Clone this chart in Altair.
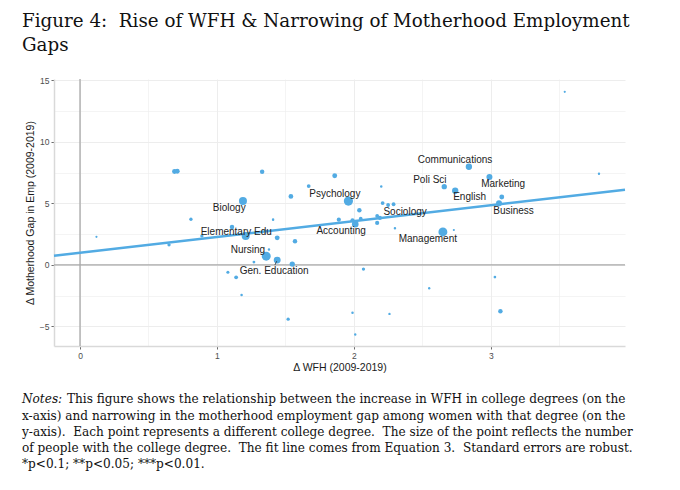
import altair as alt
import pandas as pd

# ---- data ----
wfh = [0.69, 0.71, 1.19, 0.81, 0.12, 1.11, 1.21, 0.89, 0.65, 1.27, 1.08, 1.14,
       1.33, 1.86, 1.67, 1.54, 1.41, 1.44, 1.57, 1.38, 1.36, 1.44, 1.55, 1.18,
       1.52, 1.89, 2.20, 1.96, 2.21, 2.25, 2.29, 2.04, 1.99, 2.01, 2.05, 2.17,
       2.19, 2.17, 2.30, 2.07, 2.65, 2.73, 2.66, 2.74, 2.84, 2.99, 3.08, 3.06,
       3.54, 3.79, 3.03, 2.55, 1.99, 2.26, 3.07, 2.01]
gap = [7.58, 7.60, 5.18, 3.70, 2.27, 3.08, 2.35, 2.35, 1.62, 0.22, -0.60, -1.02,
       7.56, 7.24, 6.40, 5.56, 3.67, 2.19, 1.92, 1.25, 0.70, 0.38, 0.06, -2.45,
       -4.42, 3.67, 6.37, 5.18, 5.02, 4.86, 4.92, 4.43, 3.62, 3.30, 3.75, 3.97,
       3.81, 3.40, 2.97, -0.35, 2.67, 2.83, 6.35, 6.02, 7.97, 7.13, 5.51, 5.00,
       14.06, 7.40, -1.00, -1.91, -3.89, -3.99, -3.78, -5.67]
people = [30, 30, 80, 14, 6, 25, 80, 14, 14, 10, 12, 18,
          25, 30, 18, 28, 8, 30, 25, 8, 100, 60, 35, 8,
          14, 22, 8, 105, 18, 18, 18, 25, 22, 55, 18, 18,
          22, 22, 8, 14, 100, 6, 35, 50, 50, 45, 30, 45,
          6, 7, 9, 7, 8, 7, 25, 7]

label_names = ["Biology", "Elementary Edu", "Nursing", "Gen. Education",
               "Psychology", "Accounting", "Sociology", "Management",
               "Poli Sci", "English", "Communications", "Marketing", "Business"]
label_x = [1.090, 1.141, 1.226, 1.418, 1.861, 1.907, 2.374, 2.540,
           2.555, 2.845, 2.739, 3.090, 3.166]
label_y = [4.62, 2.65, 1.24, -0.53, 5.75, 2.73, 4.29, 2.08,
           6.88, 5.48, 8.50, 6.53, 4.37]

seg_x = [1.423, 1.437]
seg_y = [-0.02, 0.30]

fit_x = [-0.19, 3.98]
fit_y = [0.73, 6.10]

x_domain = [-0.19, 3.98]
y_domain = [-6.6, 15.1]
x_grid = [0, 0.5, 1, 1.5, 2, 2.5, 3, 3.5]
y_grid = [-5, -2.5, 0, 2.5, 5, 7.5, 10, 12.5, 15]

title_lines = ["Figure 4:\u00a0 Rise of WFH & Narrowing of Motherhood Employment", "Gaps"]
notes_head = "Notes:"
notes_first = "This figure shows the relationship between the increase in WFH in college degrees (on the"
notes_rest = [
    "x-axis) and narrowing in the motherhood employment gap among women with that degree (on the",
    "y-axis).\u00a0 Each point represents a different college degree.\u00a0 The size of the point reflects the number",
    "of people with the college degree.\u00a0 The fit line comes from Equation 3.\u00a0 Standard errors are robust.",
    "*p<0.1; **p<0.05; ***p<0.01.",
]

BLUE = "#52ABE3"
SERIF = "DejaVu Serif"
NOTE_SIZE = 12.1

pts = pd.DataFrame({"x": wfh, "y": gap, "n": people})
labs = pd.DataFrame({"x": label_x, "y": label_y, "name": label_names})
fit = pd.DataFrame({"x": fit_x, "y": fit_y})
seg = pd.DataFrame({"x": [seg_x[0]], "y": [seg_y[0]], "x2": [seg_x[1]], "y2": [seg_y[1]]})

half_test = "datum.value % 1 !== 0"
xaxis = alt.Axis(
    title="Δ WFH (2009-2019)", values=x_grid,
    labelExpr="datum.value % 1 === 0 ? format(datum.value, 'd') : ''",
    tickOpacity={"condition": {"test": half_test, "value": 0}, "value": 1},
    gridWidth={"condition": {"test": half_test, "value": 0.6}, "value": 1},
)
yaxis = alt.Axis(
    title="Δ Motherhood Gap in Emp (2009-2019)", values=y_grid,
    labelExpr="datum.value % 5 === 0 ? format(datum.value, 'd') : ''",
    tickOpacity={"condition": {"test": "datum.value % 5 !== 0", "value": 0}, "value": 1},
    gridWidth={"condition": {"test": "datum.value % 5 !== 0", "value": 0.6}, "value": 1},
)
xs = alt.Scale(domain=x_domain, nice=False, zero=False)
ys = alt.Scale(domain=y_domain, nice=False, zero=False)


def X():
    return alt.X("x:Q", scale=xs, axis=xaxis)


def Y():
    return alt.Y("y:Q", scale=ys, axis=yaxis)


zero_v = alt.Chart(pd.DataFrame({"x": [0]})).mark_rule(color="#a8a8a8", strokeWidth=1.3).encode(x=X())
zero_h = alt.Chart(pd.DataFrame({"y": [0]})).mark_rule(color="#a8a8a8", strokeWidth=1.3).encode(y=Y())

points = alt.Chart(pts).mark_circle(color=BLUE, opacity=1).encode(
    x=X(), y=Y(),
    size=alt.Size("n:Q", scale=alt.Scale(domain=[0, 100], range=[0, 80]), legend=None),
)
line = alt.Chart(fit).mark_line(color=BLUE, strokeWidth=2.4).encode(x=X(), y=Y())
segment = alt.Chart(seg).mark_rule(color="#333333", strokeWidth=0.8).encode(
    x=X(), y=Y(), x2="x2:Q", y2="y2:Q")
labels = alt.Chart(labs).mark_text(
    font="Liberation Sans", fontSize=10, color="#222222", align="center", baseline="middle"
).encode(x=X(), y=Y(), text="name:N")

one = pd.DataFrame({"k": [0]})
title = alt.Chart(one).mark_text(
    font=SERIF, fontSize=18.3, color="#111111", align="left",
    baseline="alphabetic", lineHeight=24.3,
).encode(x=alt.value(-32), y=alt.value(-52), text=alt.value(title_lines))
nhead = alt.Chart(one).mark_text(
    font=SERIF, fontSize=NOTE_SIZE, fontStyle="italic", color="#111111",
    align="left", baseline="alphabetic",
).encode(x=alt.value(-32), y=alt.value(324.3), text=alt.value(notes_head))
nfirst = alt.Chart(one).mark_text(
    font=SERIF, fontSize=NOTE_SIZE, color="#111111",
    align="left", baseline="alphabetic",
).encode(x=alt.value(13), y=alt.value(324.3), text=alt.value(notes_first))
nrest = alt.Chart(one).mark_text(
    font=SERIF, fontSize=NOTE_SIZE, color="#111111",
    align="left", baseline="alphabetic", lineHeight=16.3,
).encode(x=alt.value(-32), y=alt.value(340.6), text=alt.value(notes_rest))

chart = alt.layer(
    zero_v, zero_h, points, line, segment, labels, title, nhead, nfirst, nrest
).properties(
    width=571, height=267,
    autosize=alt.AutoSizeParams(type="none"),
    padding={"left": 46, "top": 71, "right": 47, "bottom": 128},
    background="white",
).configure_view(stroke=None).configure_axis(
    labelFont="Liberation Sans", labelFontSize=8.5, labelColor="#4d4d4d",
    titleFont="Liberation Sans", titleFontSize=10.5, titleColor="#1a1a1a", titleFontWeight="normal",
    gridColor="#ededed", tickColor="#6b6b6b", tickSize=3, tickWidth=1,
    domainColor="#d9d9d9", domainWidth=1.5,
).configure_axisX(labelPadding=2, titlePadding=3).configure_axisY(labelPadding=2, titlePadding=4)

chart.save("out.html", embed_options={"renderer": "svg", "actions": False})
